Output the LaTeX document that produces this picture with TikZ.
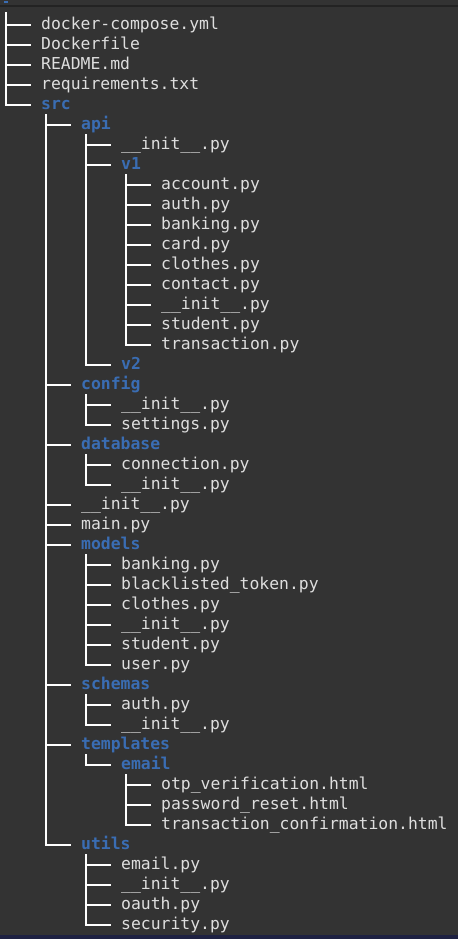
\documentclass[tikz,border=0pt]{standalone}
\usepackage{fontspec}
\setmonofont{DejaVu Sans Mono}
\usepackage{xcolor}
\usetikzlibrary{calc}

\definecolor{termbg}{HTML}{333333}
\definecolor{termfg}{HTML}{DEDEDE}
\definecolor{dirblue}{HTML}{3A6DB3}
\definecolor{barline}{HTML}{232323}
\definecolor{navy}{HTML}{1E2142}

\tikzset{
  entry/.style={anchor=west, inner sep=0pt, text height=12pt, text depth=2pt,
    text=termfg, font=\ttfamily\fontsize{16.4}{20}\selectfont},
  dir/.style={entry, text=dirblue, font=\ttfamily\bfseries\fontsize{16.4}{20}\selectfont},
  branch/.style={draw=white, line width=2pt, line cap=rect}
}

\begin{document}
\begin{tikzpicture}[x=1pt, y=-20pt]
\useasboundingbox (0,-0.235) rectangle (458,46.715);
\fill[termbg] (0,-0.235) rectangle (458,46.715);
\fill[barline] (0,0.04) rectangle (458,0.115);
\fill[dirblue] (3.5,-0.16) rectangle (8,-0.085);
\fill[navy] (0,46.515) rectangle (458,46.715);

% top level
\node[entry] (dcompose) at (41,1) {docker-compose.yml};
\node[entry] (dockerfile) at (41,2) {Dockerfile};
\node[entry] (readme) at (41,3) {README.md};
\node[entry] (reqs) at (41,4) {requirements.txt};
\node[dir] (src) at (41,5) {src};

% src
\node[dir] (api) at (81,6) {api};
\node[entry] (apiinit) at (121,7) {\_\_init\_\_.py};
\node[dir] (vone) at (121,8) {v1};
\node[entry] (account) at (161,9) {account.py};
\node[entry] (auth) at (161,10) {auth.py};
\node[entry] (banking) at (161,11) {banking.py};
\node[entry] (card) at (161,12) {card.py};
\node[entry] (clothes) at (161,13) {clothes.py};
\node[entry] (contact) at (161,14) {contact.py};
\node[entry] (voneinit) at (161,15) {\_\_init\_\_.py};
\node[entry] (student) at (161,16) {student.py};
\node[entry] (transaction) at (161,17) {transaction.py};
\node[dir] (vtwo) at (121,18) {v2};
\node[dir] (config) at (81,19) {config};
\node[entry] (cfginit) at (121,20) {\_\_init\_\_.py};
\node[entry] (settings) at (121,21) {settings.py};
\node[dir] (database) at (81,22) {database};
\node[entry] (connection) at (121,23) {connection.py};
\node[entry] (dbinit) at (121,24) {\_\_init\_\_.py};
\node[entry] (srcinit) at (81,25) {\_\_init\_\_.py};
\node[entry] (mainpy) at (81,26) {main.py};
\node[dir] (models) at (81,27) {models};
\node[entry] (mbanking) at (121,28) {banking.py};
\node[entry] (blacklisted) at (121,29) {blacklisted\_token.py};
\node[entry] (mclothes) at (121,30) {clothes.py};
\node[entry] (minit) at (121,31) {\_\_init\_\_.py};
\node[entry] (mstudent) at (121,32) {student.py};
\node[entry] (user) at (121,33) {user.py};
\node[dir] (schemas) at (81,34) {schemas};
\node[entry] (sauth) at (121,35) {auth.py};
\node[entry] (sinit) at (121,36) {\_\_init\_\_.py};
\node[dir] (templates) at (81,37) {templates};
\node[dir] (email) at (121,38) {email};
\node[entry] (otp) at (161,39) {otp\_verification.html};
\node[entry] (pwreset) at (161,40) {password\_reset.html};
\node[entry] (txconfirm) at (161,41) {transaction\_confirmation.html};
\node[dir] (utils) at (81,42) {utils};
\node[entry] (uemail) at (121,43) {email.py};
\node[entry] (uinit) at (121,44) {\_\_init\_\_.py};
\node[entry] (oauth) at (121,45) {oauth.py};
\node[entry] (security) at (121,46) {security.py};

% spines
\coordinate (rootspine) at (6,0.42);
\coordinate (srcspine) at (46,5.5);
\coordinate (apispine) at (86,6.5);
\coordinate (vonespine) at (126,8.5);
\coordinate (cfgspine) at (86,19.5);
\coordinate (dbspine) at (86,22.5);
\coordinate (modelspine) at (86,27.5);
\coordinate (schemaspine) at (86,34.5);
\coordinate (tplspine) at (86,37.5);
\coordinate (emailspine) at (126,38.5);
\coordinate (utilspine) at (86,42.5);

\draw[branch] (rootspine) -- (rootspine |- src.west);
\foreach \k in {dcompose,dockerfile,readme,reqs,src}
  \draw[branch] (rootspine |- \k.west) -- ([xshift=-11pt]\k.west);

\draw[branch] (srcspine) -- (srcspine |- utils.west);
\foreach \k in {api,config,database,srcinit,mainpy,models,schemas,templates,utils}
  \draw[branch] (srcspine |- \k.west) -- ([xshift=-11pt]\k.west);

\draw[branch] (apispine) -- (apispine |- vtwo.west);
\foreach \k in {apiinit,vone,vtwo}
  \draw[branch] (apispine |- \k.west) -- ([xshift=-11pt]\k.west);

\draw[branch] (vonespine) -- (vonespine |- transaction.west);
\foreach \k in {account,auth,banking,card,clothes,contact,voneinit,student,transaction}
  \draw[branch] (vonespine |- \k.west) -- ([xshift=-11pt]\k.west);

\draw[branch] (cfgspine) -- (cfgspine |- settings.west);
\foreach \k in {cfginit,settings}
  \draw[branch] (cfgspine |- \k.west) -- ([xshift=-11pt]\k.west);

\draw[branch] (dbspine) -- (dbspine |- dbinit.west);
\foreach \k in {connection,dbinit}
  \draw[branch] (dbspine |- \k.west) -- ([xshift=-11pt]\k.west);

\draw[branch] (modelspine) -- (modelspine |- user.west);
\foreach \k in {mbanking,blacklisted,mclothes,minit,mstudent,user}
  \draw[branch] (modelspine |- \k.west) -- ([xshift=-11pt]\k.west);

\draw[branch] (schemaspine) -- (schemaspine |- sinit.west);
\foreach \k in {sauth,sinit}
  \draw[branch] (schemaspine |- \k.west) -- ([xshift=-11pt]\k.west);

\draw[branch] (tplspine) -- (tplspine |- email.west);
\draw[branch] (tplspine |- email.west) -- ([xshift=-11pt]email.west);

\draw[branch] (emailspine) -- (emailspine |- txconfirm.west);
\foreach \k in {otp,pwreset,txconfirm}
  \draw[branch] (emailspine |- \k.west) -- ([xshift=-11pt]\k.west);

\draw[branch] (utilspine) -- (utilspine |- security.west);
\foreach \k in {uemail,uinit,oauth,security}
  \draw[branch] (utilspine |- \k.west) -- ([xshift=-11pt]\k.west);
\end{tikzpicture}
\end{document}
